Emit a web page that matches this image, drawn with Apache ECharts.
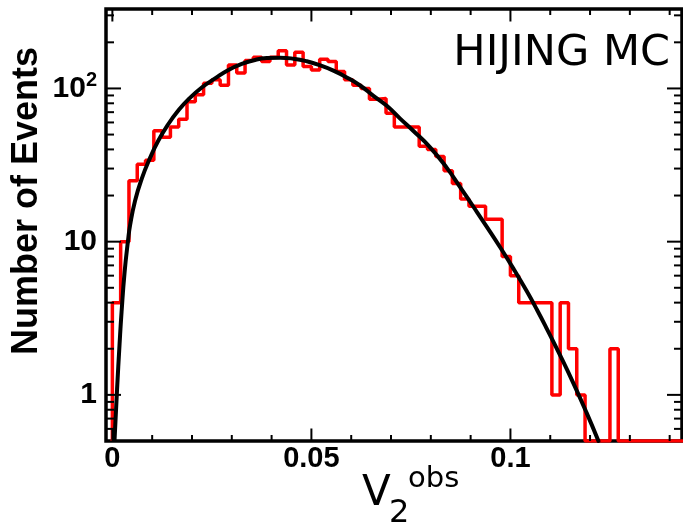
<!DOCTYPE html>
<html>
<head>
<meta charset="utf-8">
<script src="https://cdn.jsdelivr.net/npm/echarts@6/dist/echarts.min.js"></script>
<style>
html,body{margin:0;padding:0;background:#fff;}
#chart{width:683px;height:528px;}
</style>
</head>
<body>
<div id="chart"></div>
<script>
// ---- data ----
const histStart = 0;
const binWidth = 0.0020833;
const histCounts = [4, 10, 25, 32, 34, 53, 48, 56, 63, 82,
  91, 108, 114, 105, 142, 126, 152, 160, 150, 160,
  176, 142, 172, 139, 132, 155, 150, 129, 114, 105,
  100, 85, 86, 69, 56, 56, 56, 42, 40, 36,
  29, 24, 19, 17, 17, 14, 14, 8, 6, 4,
  4, 4, 4, 1, 4, 2, 1, 0, 0, 0,
  2, 0, 0, 0, 0, 0, 0, 0, 0];
const fitX = [0.00055, 0.00118, 0.00181, 0.00231, 0.00307, 0.00394, 0.00445, 0.0057, 0.00739, 0.00947,
  0.01156, 0.01407, 0.01658, 0.0191, 0.02246, 0.0258, 0.02915, 0.03251, 0.03585, 0.03879,
  0.04214, 0.04548, 0.04884, 0.05219, 0.05553, 0.05889, 0.06224, 0.06558, 0.06894, 0.07229,
  0.07563, 0.07982, 0.08402, 0.08736, 0.0907, 0.09407, 0.09741, 0.10075, 0.10412, 0.10663,
  0.10915, 0.11249, 0.11583, 0.1192, 0.12211];
const fitY = [0.51, 1.09, 2.15, 3.48, 6.31, 10.2, 12.8, 18.5, 25.8, 35.2,
  45.7, 58.6, 71.8, 84.9, 101.4, 116.2, 132.1, 144.9, 153.5, 157.8,
  158.9, 156.4, 150.4, 141.5, 130.6, 118.0, 104.5, 89.5, 77.0, 63.5,
  52.8, 41.3, 30.3, 22.7, 16.9, 12.5, 9.2, 6.67, 4.74, 3.61,
  2.70, 1.81, 1.19, 0.757, 0.5];
const xTickValues = [0, 0.05, 0.1];
const xTickLabels = ['0', '0.05', '0.1'];
const xMinorTicks = [0.01, 0.02, 0.03, 0.04, 0.06, 0.07, 0.08, 0.09, 0.11, 0.12, 0.13, 0.14];
const yTickValues = [1, 10, 100];
const yTickLabels = ['1', '10', '{b|10}{s|2}'];
const yMinorTicks = [0.6, 0.7, 0.8, 0.9, 2, 3, 4, 5, 6, 7, 8, 9, 20, 30, 40, 50, 60, 70, 80, 90, 200, 300];
const xMin = -0.0016, xMax = 0.1431;
const yMin = 0.5, yMax = 330;
const yTitle = 'Number of Events';
const tagText = 'HIJING MC';

// ---- build series data ----
const histData = [[histStart, yMin]];
histCounts.forEach(function (c, i) {
  histData.push([histStart + i * binWidth, Math.max(c, yMin)]);
});
histData.push([histStart + histCounts.length * binWidth, Math.max(histCounts[histCounts.length - 1], yMin)]);
const fitData = fitX.map(function (x, i) { return [x, fitY[i]]; });

function xTickRender(len) {
  return function (params, api) {
    const x = api.coord([api.value(0), 1])[0];
    const cs = params.coordSys;
    const yb = cs.y + cs.height, yt = cs.y;
    return {
      type: 'group',
      children: [
        { type: 'line', shape: { x1: x, y1: yb, x2: x, y2: yb - len }, style: { stroke: '#000', lineWidth: 2 } },
        { type: 'line', shape: { x1: x, y1: yt, x2: x, y2: yt + len }, style: { stroke: '#000', lineWidth: 2 } }
      ]
    };
  };
}
function yTickRender(len) {
  return function (params, api) {
    const y = api.coord([0, api.value(1)])[1];
    const cs = params.coordSys;
    const xl = cs.x, xr = cs.x + cs.width;
    return {
      type: 'group',
      children: [
        { type: 'line', shape: { x1: xl, y1: y, x2: xl + len, y2: y }, style: { stroke: '#000', lineWidth: 2 } },
        { type: 'line', shape: { x1: xr, y1: y, x2: xr - len, y2: y }, style: { stroke: '#000', lineWidth: 2 } }
      ]
    };
  };
}

const chart = echarts.init(document.getElementById('chart'), null, { renderer: 'canvas' });
chart.setOption({
  animation: false,
  backgroundColor: '#fff',
  grid: {
    left: 106, right: 1, top: 9, bottom: 87,
    show: true, borderColor: '#000', borderWidth: 3.5, backgroundColor: 'transparent'
  },
  xAxis: {
    type: 'value', min: xMin, max: xMax,
    axisLine: { show: false }, axisTick: { show: false }, splitLine: { show: false },
    axisLabel: {
      customValues: xTickValues,
      margin: 3,
      color: '#000',
      fontFamily: 'Liberation Sans', fontWeight: 'bold', fontSize: 29,
      formatter: function (v) {
        for (let i = 0; i < xTickValues.length; i++) {
          if (Math.abs(v - xTickValues[i]) < 1e-9) return xTickLabels[i];
        }
        return '';
      }
    }
  },
  yAxis: {
    type: 'log', logBase: 10, min: yMin, max: yMax,
    axisLine: { show: false }, axisTick: { show: false }, splitLine: { show: false },
    axisLabel: {
      margin: 9,
      color: '#000',
      fontFamily: 'Liberation Sans', fontWeight: 'bold', fontSize: 30,
      formatter: function (v) {
        for (let i = 0; i < yTickValues.length; i++) {
          if (Math.abs(v - yTickValues[i]) / yTickValues[i] < 1e-6) return yTickLabels[i];
        }
        return '';
      },
      rich: {
        b: { fontFamily: 'Liberation Sans', fontWeight: 'bold', fontSize: 30, color: '#000' },
        s: { fontFamily: 'Liberation Sans', fontWeight: 'bold', fontSize: 20, color: '#000', padding: [0, 0, 16, 0] }
      }
    }
  },
  series: [
    {
      type: 'line', name: 'histogram', data: histData, step: 'end',
      symbol: 'none', clip: true,
      lineStyle: { color: '#ff0000', width: 3.5 }, z: 2
    },
    {
      type: 'line', name: 'fit', data: fitData, smooth: 0.5,
      symbol: 'none', clip: true,
      lineStyle: { color: '#000', width: 4, join: 'round', cap: 'round' }, z: 3
    },
    { type: 'custom', data: xTickValues.map(function (v) { return [v, 1]; }), renderItem: xTickRender(12.5), z: 5, silent: true },
    { type: 'custom', data: xMinorTicks.map(function (v) { return [v, 1]; }), renderItem: xTickRender(6), z: 5, silent: true },
    { type: 'custom', data: yTickValues.map(function (v) { return [0, v]; }), renderItem: yTickRender(15), z: 5, silent: true },
    { type: 'custom', data: yMinorTicks.map(function (v) { return [0, v]; }), renderItem: yTickRender(8), z: 5, silent: true }
  ],
  graphic: [
    {
      type: 'text', x: 27, y: 201, rotation: Math.PI / 2,
      style: { text: yTitle, font: 'bold 36px "Liberation Sans"', fill: '#000',
        align: 'center', verticalAlign: 'middle', textAlign: 'center', textVerticalAlign: 'middle' }
    },
    {
      type: 'text', x: 670, y: 54,
      style: { text: tagText, font: '43px "DejaVu Sans"', fill: '#000',
        align: 'right', verticalAlign: 'middle', textAlign: 'right', textVerticalAlign: 'middle' }
    },
    {
      type: 'text', x: 362, y: 494,
      style: { text: 'V', font: '42px "DejaVu Sans"', fill: '#000',
        align: 'left', verticalAlign: 'middle', textAlign: 'left', textVerticalAlign: 'middle' }
    },
    {
      type: 'text', x: 389, y: 514,
      style: { text: '2', font: '32px "DejaVu Sans"', fill: '#000',
        align: 'left', verticalAlign: 'middle', textAlign: 'left', textVerticalAlign: 'middle' }
    },
    {
      type: 'text', x: 408, y: 479,
      style: { text: 'obs', font: '29px "DejaVu Sans"', fill: '#000',
        align: 'left', verticalAlign: 'middle', textAlign: 'left', textVerticalAlign: 'middle' }
    }
  ]
});
</script>
</body>
</html>
